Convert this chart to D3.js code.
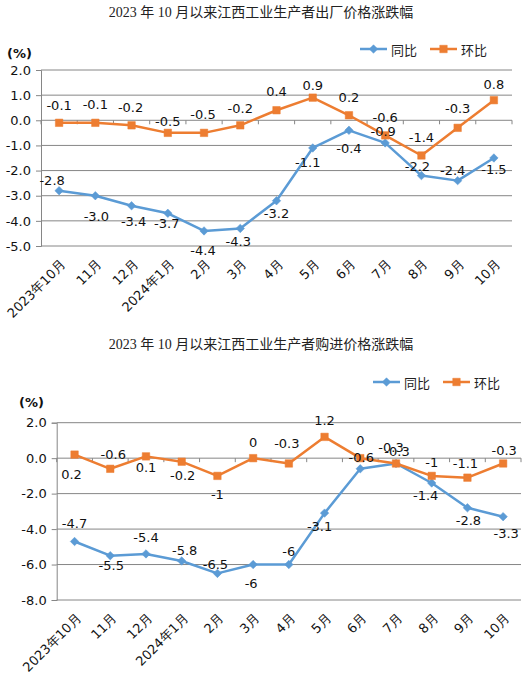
<!DOCTYPE html>
<html>
<head>
<meta charset="utf-8">
<script src="https://cdn.jsdelivr.net/npm/d3@7/dist/d3.min.js"></script>
<style>
  body { margin: 0; background: #fff; }
  svg { display: block; }
</style>
</head>
<body>
<svg id="mysvg" width="529" height="682"></svg>
<script>
// Categories (shared by both charts)
const months = ['2023年10月', '11月', '12月', '2024年1月', '2月', '3月', '4月', '5月', '6月', '7月', '8月', '9月', '10月'];

// Chart 1: 出厂价格
const title1 = '2023 年 10 月以来江西工业生产者出厂价格涨跌幅';
const yoy1 = [-2.8, -3.0, -3.4, -3.7, -4.4, -4.3, -3.2, -1.1, -0.4, -0.9, -2.2, -2.4, -1.5];
const mom1 = [-0.1, -0.1, -0.2, -0.5, -0.5, -0.2, 0.4, 0.9, 0.2, -0.6, -1.4, -0.3, 0.8];
const ticks1 = [2, 1, 0, -1, -2, -3, -4, -5];

// Chart 2: 购进价格
const title2 = '2023 年 10 月以来江西工业生产者购进价格涨跌幅';
const yoy2 = [-4.7, -5.5, -5.4, -5.8, -6.5, -6, -6, -3.1, -0.6, -0.3, -1.4, -2.8, -3.3];
const mom2 = [0.2, -0.6, 0.1, -0.2, -1, 0, -0.3, 1.2, 0, -0.3, -1, -1.1, -0.3];
const ticks2 = [2, 0, -2, -4, -6, -8];

const seriesNames = ['同比', '环比'];

// label placement (pixel nudges from each point), hand-tuned like the original
const yoyNudge1 = [[-7,-10],[1,21],[2,16],[-1,10],[-1,20],[-2,13],[0,13],[-5,15],[0,18],[-2,-11],[-4,-9],[-5,-10],[0,11]];
const momNudge1 = [[0,-17],[0,-18],[-1,-18],[0,-11],[-1,-18],[0,-17],[0,-19],[0,-12],[0,-18],[0,-18],[0,-18],[0,-19],[0,-16]];
const yoyNudge2 = [[0,-18],[1,10],[0,-16],[3,-10],[-2,-9],[-2,19],[0,-13],[-5,13],[1,-11],[1,-12],[-6,13],[1,13],[3,17]];
const momNudge2 = [[-3,20],[3,-14],[0,11],[1,14],[0,19],[0,-16],[-2,-20],[0,-16],[0,-18],[-5,-16],[0,-13],[-2,-14],[1,-13]];

const blue = '#5b9bd5';
const orange = '#ed7d31';
const grid = '#868686';
const font = 'DejaVu Sans, Verdana, sans-serif';

// plain hyphen minus, like the original
const oneDecimal = d => d.toFixed(1);

const svg = d3.select('#mysvg');

function drawChart(opt) {
  const g = svg.append('g');

  // title
  g.append('text')
    .attr('x', 261)
    .attr('y', opt.titleY)
    .attr('text-anchor', 'middle')
    .attr('dominant-baseline', 'central')
    .style('font-family', '"Liberation Serif", "Noto Sans CJK SC", serif')
    .style('font-size', '14px')
    .attr('fill', '#222')
    .text(opt.title);

  // scales
  const xScale = d3.scaleBand()
    .domain(months)
    .range([opt.left, opt.right]);

  const yScale = d3.scaleLinear()
    .domain([opt.ticks[0], opt.ticks[opt.ticks.length - 1]])
    .range([opt.top, opt.bottom]);

  const cx = d => xScale(d) + xScale.bandwidth() / 2;

  // gridlines
  g.selectAll('.grid')
    .data(opt.ticks)
    .join('line')
    .attr('x1', opt.left)
    .attr('x2', opt.right)
    .attr('y1', d => yScale(d))
    .attr('y2', d => yScale(d))
    .attr('stroke', grid)
    .attr('stroke-width', 1);

  // y axis
  const yAxis = g.append('g')
    .attr('transform', `translate(${opt.left}, 0)`)
    .call(d3.axisLeft(yScale).tickValues(opt.ticks).tickSize(5).tickPadding(5).tickFormat(oneDecimal));
  yAxis.select('.domain').attr('stroke', grid);
  yAxis.selectAll('.tick line').attr('stroke', grid);
  yAxis.selectAll('text')
    .style('font-family', font)
    .style('font-size', '13px')
    .attr('fill', '#111');

  // category axis line at zero, with ticks between categories
  const zeroY = yScale(0);
  g.selectAll('.cat-tick')
    .data(d3.range(months.length + 1))
    .join('line')
    .attr('x1', i => opt.left + i * xScale.step())
    .attr('x2', i => opt.left + i * xScale.step())
    .attr('y1', zeroY)
    .attr('y2', zeroY + 4)
    .attr('stroke', grid);

  // month labels at the bottom, rotated
  g.selectAll('.month')
    .data(months)
    .join('text')
    .attr('text-anchor', 'end')
    .attr('transform', d => `translate(${cx(d) + 4}, ${opt.bottom + 16}) rotate(-45)`)
    .attr('dy', '0.35em')
    .style('font-family', font)
    .style('font-size', '13px')
    .attr('fill', '#111')
    .text(d => d);

  // "(%)"
  g.append('text')
    .attr('x', opt.unitX)
    .attr('y', opt.unitY)
    .attr('dominant-baseline', 'central')
    .style('font-family', font)
    .style('font-size', '13px')
    .style('font-weight', 'bold')
    .attr('fill', '#111')
    .text('(%)');

  const lineGen = vals => d3.line()
    .x((d, i) => cx(months[i]))
    .y(d => yScale(d))(vals);

  const series = [
    { name: seriesNames[0], values: opt.yoy, color: blue, shape: 'diamond', nudge: opt.yoyNudge },
    { name: seriesNames[1], values: opt.mom, color: orange, shape: 'square', nudge: opt.momNudge }
  ];

  const marker = (sel, shape, color) => {
    sel.attr('d', shape === 'diamond' ? d3.symbol(d3.symbolSquare, 36)() : d3.symbol(d3.symbolSquare, 56)())
      .attr('fill', color)
      .attr('stroke', color)
      .attr('stroke-width', 0.5);
  };

  series.forEach(s => {
    g.append('path')
      .attr('d', lineGen(s.values))
      .attr('fill', 'none')
      .attr('stroke', s.color)
      .attr('stroke-width', 2.5)
      .attr('stroke-linejoin', 'round');

    g.selectAll(null)
      .data(s.values)
      .join('path')
      .attr('transform', (d, i) => `translate(${cx(months[i])}, ${yScale(d)})` + (s.shape === 'diamond' ? ' rotate(45)' : ''))
      .call(marker, s.shape, s.color);
  });

  // data labels
  series.forEach(s => {
    g.selectAll(null)
      .data(s.values)
      .join('text')
      .attr('x', (d, i) => cx(months[i]) + s.nudge[i][0])
      .attr('y', (d, i) => yScale(d) + s.nudge[i][1])
      .attr('text-anchor', 'middle')
      .attr('dominant-baseline', 'central')
      .style('font-family', font)
      .style('font-size', '13px')
      .attr('fill', '#111')
      .text(d => opt.labelFormat(d));
  });

  // legend
  const legend = g.selectAll('.legend')
    .data(series)
    .join('g')
    .attr('transform', (d, i) => `translate(${opt.legendX + i * 70}, ${opt.legendY})`);

  legend.append('line')
    .attr('x1', 0)
    .attr('x2', 27)
    .attr('stroke', d => d.color)
    .attr('stroke-width', 2.5);

  legend.append('path')
    .attr('transform', d => 'translate(13.5, 0)' + (d.shape === 'diamond' ? ' rotate(45)' : ''))
    .each(function(d) { d3.select(this).call(marker, d.shape, d.color); });

  legend.append('text')
    .attr('x', 31)
    .attr('dominant-baseline', 'central')
    .style('font-family', '"Noto Sans CJK SC", sans-serif')
    .style('font-size', '13px')
    .attr('fill', '#222')
    .text(d => d.name);
}

drawChart({
  title: title1, titleY: 12,
  yoy: yoy1, mom: mom1, ticks: ticks1,
  yoyNudge: yoyNudge1, momNudge: momNudge1,
  left: 41, right: 512, top: 70, bottom: 246,
  unitX: 7, unitY: 53,
  legendX: 360, legendY: 49,
  labelFormat: oneDecimal
});

drawChart({
  title: title2, titleY: 344,
  yoy: yoy2, mom: mom2, ticks: ticks2,
  yoyNudge: yoyNudge2, momNudge: momNudge2,
  left: 56.7, right: 521, top: 422.7, bottom: 600,
  unitX: 19, unitY: 402,
  legendX: 373, legendY: 382,
  labelFormat: d => String(d)
});
</script>
</body>
</html>
